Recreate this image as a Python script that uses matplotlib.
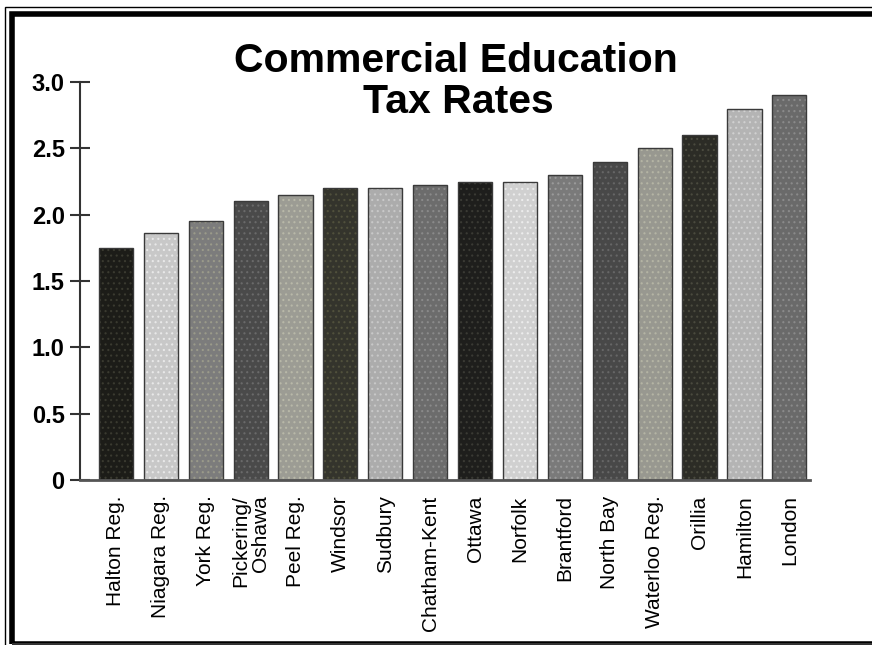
import matplotlib
matplotlib.use("Agg")
import matplotlib.pyplot as plt
from matplotlib.patches import Rectangle
import numpy as np

plt.rcParams["font.family"] = ["Liberation Sans", "DejaVu Sans"]
plt.rcParams["hatch.linewidth"] = 0.8

CITIES = ["Halton Reg.", "Niagara Reg.", "York Reg.", "Pickering/\nOshawa", "Peel Reg.",
          "Windsor", "Sudbury", "Chatham-Kent", "Ottawa", "Norfolk", "Brantford",
          "North Bay", "Waterloo Reg.", "Orillia", "Hamilton", "London"]
RATES = [1.75, 1.86, 1.95, 2.10, 2.15, 2.20, 2.20, 2.22, 2.25, 2.25, 2.30,
         2.40, 2.50, 2.60, 2.80, 2.90]
YTICKS = [0, 0.5, 1.0, 1.5, 2.0, 2.5, 3.0]
YTICK_LABELS = ["0", "0.5", "1.0", "1.5", "2.0", "2.5", "3.0"]

# dithered greys of the original, roughly
COLORS = ["#1c1c18", "#c8c8c8", "#7c7c7c", "#4a4a4a", "#9c9c94",
          "#34342c", "#acacac", "#6c6c6c", "#1e1e1c", "#d0d0d0", "#7a7a7a",
          "#484848", "#989890", "#2c2c26", "#b4b4b4", "#6a6a6a"]
DOTS = ["#3a3a30", "#e8e8e8", "#9a9a8a", "#6a6a6a", "#b8b8a8",
        "#50503c", "#c8c8c8", "#8a8a8a", "#3a3a34", "#ececec", "#9a9a9a",
        "#666666", "#b4b4a4", "#4a4a3e", "#d0d0d0", "#8a8a8a"]

W, H = 872, 645
fig = plt.figure(figsize=(W / 100, H / 100), dpi=100)

# double frame
fig.add_artist(Rectangle((4.5 / W, -0.01), 1.1, (H - 6.5) / H + 0.01, transform=fig.transFigure,
                         fill=False, lw=1.0, ec="black"))
fig.add_artist(Rectangle((11.5 / W, 1.5 / H), 1.1, (H - 15.5) / H, transform=fig.transFigure,
                         fill=False, lw=4.0, ec="black"))
fig.add_artist(Rectangle((11.5 / W, 1.0 / H), 1.1, 0, transform=fig.transFigure,
                         fill=False, lw=1.2, ec="#333333"))

ax = fig.add_axes([80 / W, 165 / H, 730 / W, 398 / H])
x = np.arange(len(CITIES))
ax.bar(x, RATES, width=0.76, color=COLORS, linewidth=0, zorder=2)
bars = ax.bar(x, RATES, width=0.76, color="none", linewidth=0, zorder=3, hatch="...")
for b, c in zip(bars, DOTS):
    b.set_edgecolor(c)
ax.bar(x, RATES, width=0.76, color="none", edgecolor="#3a3a3a", linewidth=1.0, zorder=4)

ax.set_xlim(-0.8, 15.46)
ax.set_ylim(0, 3.0)
ax.set_yticks(YTICKS)
ax.set_yticklabels(YTICK_LABELS, fontsize=17, fontweight="bold")
ax.tick_params(axis="y", direction="inout", length=14, width=1.5, color="#333333", pad=4)
ax.set_xticks(x)
ax.set_xticklabels(CITIES, rotation=90, fontsize=15, va="top", ha="center",
                   multialignment="right", linespacing=1.05)
ax.tick_params(axis="x", length=0, pad=11)

ax.spines["top"].set_visible(False); ax.spines["right"].set_visible(False)
ax.spines["left"].set_color("#333333"); ax.spines["left"].set_linewidth(1.5)
ax.spines["bottom"].set_color("#555555"); ax.spines["bottom"].set_linewidth(2.0)
ax.spines["bottom"].set_zorder(5)
ax.set_facecolor("none")

fig.text(456 / W, (H - 72) / H, "Commercial Education", ha="center", va="baseline",
         fontsize=29.5, fontweight="bold")
fig.text(458 / W, (H - 113) / H, "Tax Rates", ha="center", va="baseline",
         fontsize=29.5, fontweight="bold")

fig.savefig("out.png", dpi=100, facecolor="white")
plt.close(fig)
